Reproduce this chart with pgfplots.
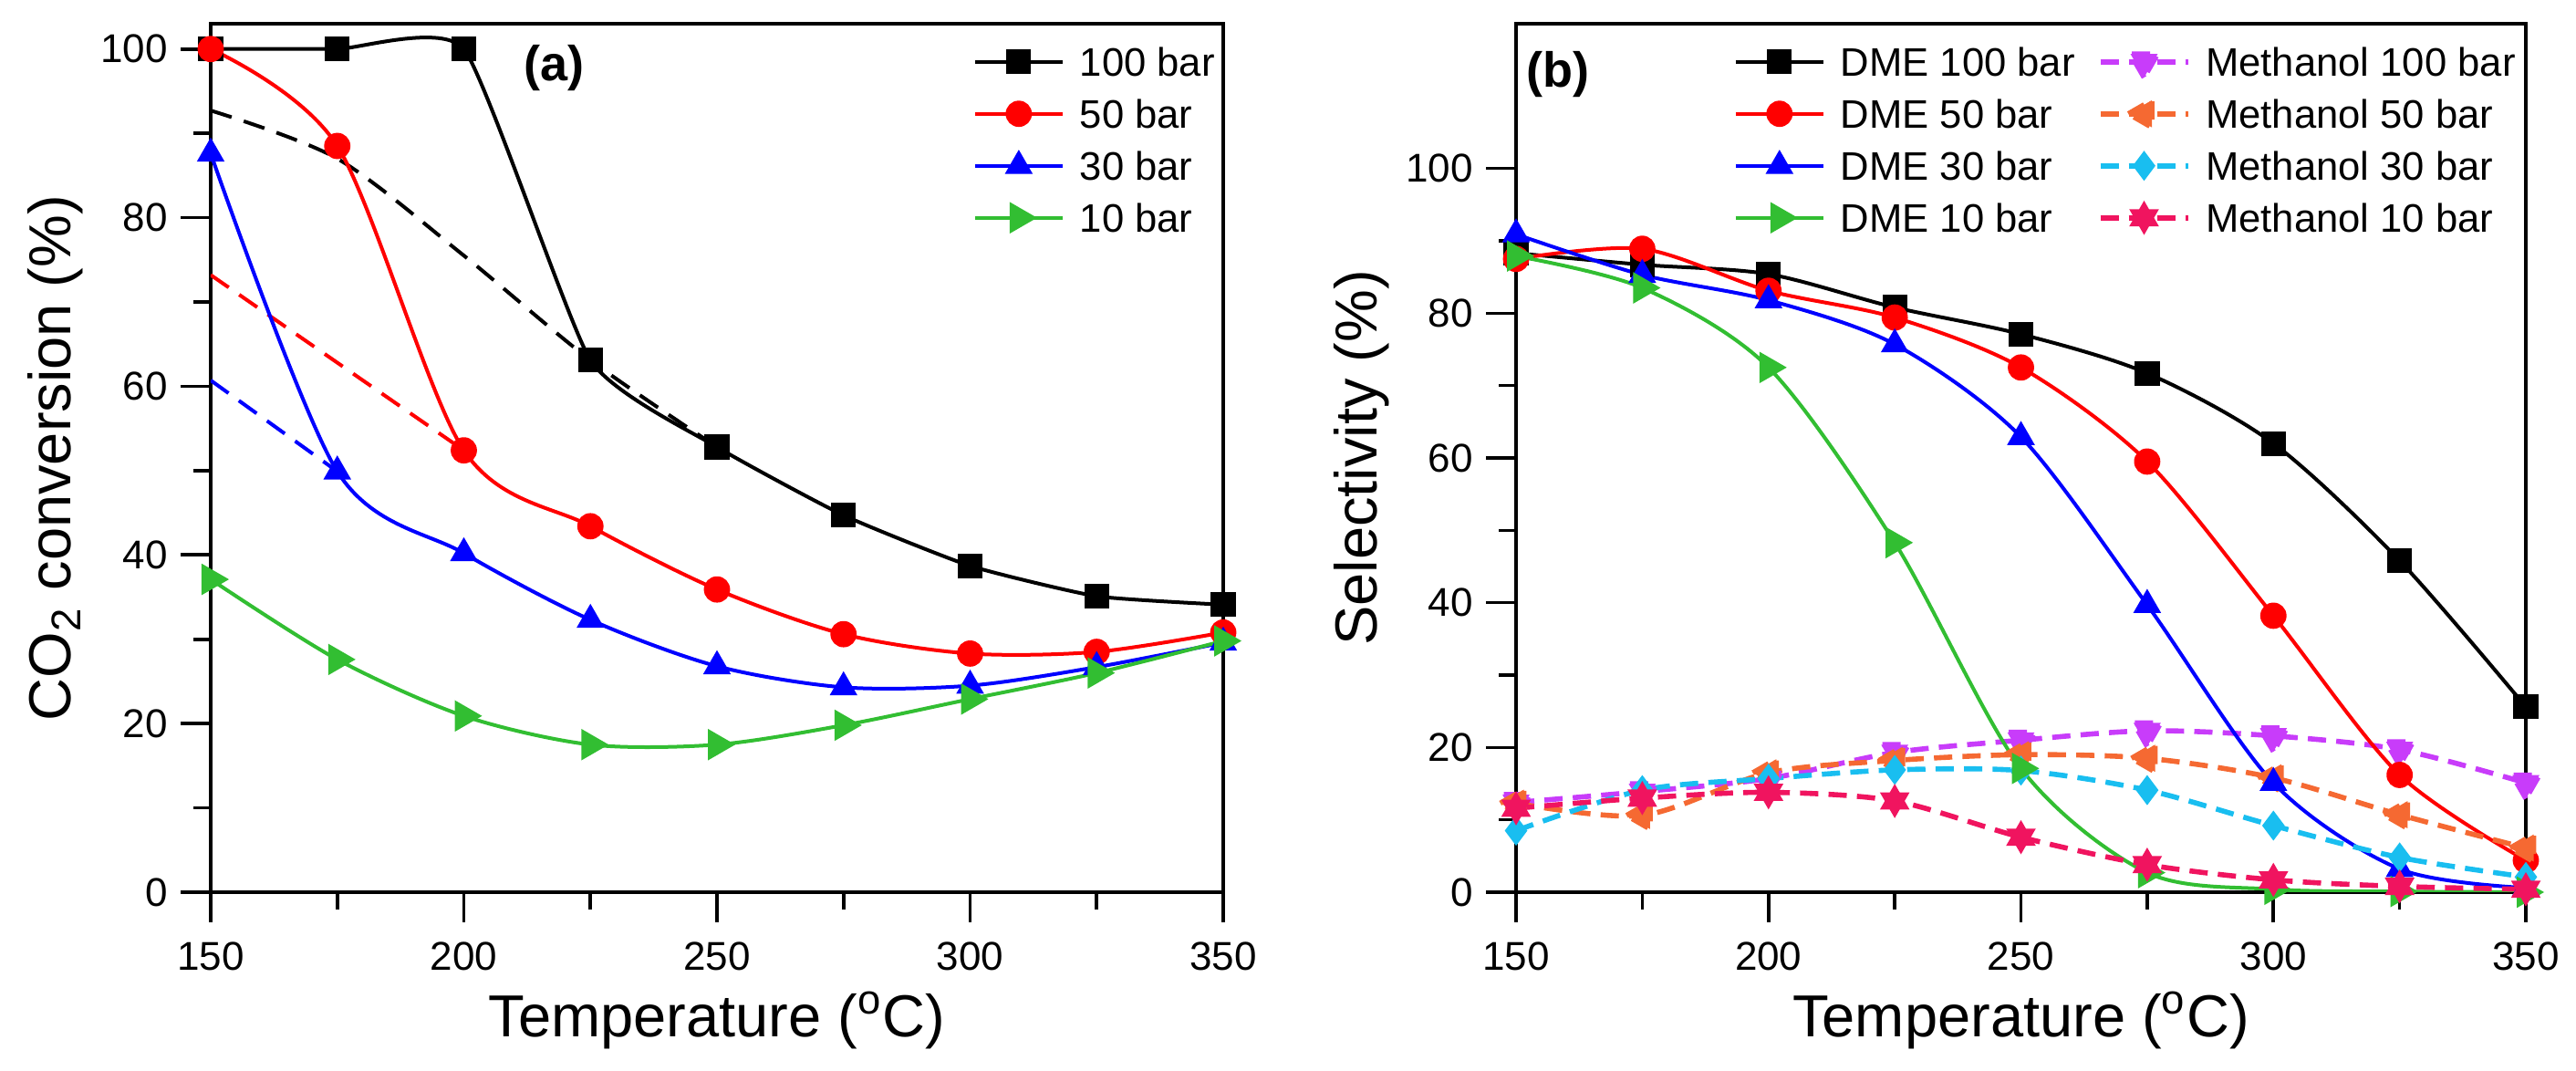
\documentclass[border=0pt]{standalone}
\usepackage{fontspec}
\setmainfont{Liberation Sans}
\usepackage{pgfplots}
\usepackage{pgfplotstable}
\pgfplotsset{compat=1.18}

\definecolor{cred}{RGB}{255,0,0}
\definecolor{cblue}{RGB}{0,0,255}
\definecolor{cgreen}{RGB}{50,190,50}
\definecolor{cviolet}{RGB}{200,60,250}
\definecolor{corange}{RGB}{245,105,50}
\definecolor{ccyan}{RGB}{25,190,240}
\definecolor{ccrimson}{RGB}{240,20,95}

% filled six-pointed star (two overlapping triangles)
\pgfdeclareplotmark{hexstar}{%
  \pgfpathmoveto{\pgfpointpolar{90}{\pgfplotmarksize}}%
  \pgfpathlineto{\pgfpointpolar{210}{\pgfplotmarksize}}%
  \pgfpathlineto{\pgfpointpolar{330}{\pgfplotmarksize}}%
  \pgfpathclose
  \pgfpathmoveto{\pgfpointpolar{270}{\pgfplotmarksize}}%
  \pgfpathlineto{\pgfpointpolar{30}{\pgfplotmarksize}}%
  \pgfpathlineto{\pgfpointpolar{150}{\pgfplotmarksize}}%
  \pgfpathclose
  \pgfusepathqfillstroke}

% ---------- (a) CO2 conversion ----------
\pgfplotstableread{
T    c100  c50   c30   c10
150  100   100   87.6  37.1
175  100   88.5  49.9  27.6
200  100   52.4  40.2  20.9
225  63.1  43.4  32.3  17.5
250  52.8  35.9  26.8  17.5
275  44.7  30.6  24.3  19.8
300  38.7  28.3  24.5  22.9
325  35.1  28.5  26.7  26.0
350  34.1  30.8  29.6  29.8
}\conversion

% ---------- (b) selectivity ----------
\pgfplotstableread{
T    d100  d50   d30   d10   m100  m50   m30   m10
150  88.3  87.5  90.9  87.9  12.4  12.3  8.5   11.6
175  86.7  88.9  85.3  83.5  13.9  10.6  14.1  13.0
200  85.4  83.1  81.8  72.5  15.7  16.5  15.7  13.8
225  80.8  79.4  75.7  48.3  19.3  18.2  16.9  12.6
250  77.1  72.5  62.9  17.1  21.0  19.0  16.8  7.6
275  71.7  59.5  39.7  2.7   22.3  18.5  14.1  3.8
300  62.0  38.2  15.1  0.4   21.6  15.8  9.2   1.7
325  45.8  16.2  3.2   0.1   19.7  10.7  4.8   0.8
350  25.6  4.4   0.6   0.0   15.1  6.1   2.1   0.4
}\selectivity

\pgfplotsset{
  panel/.style={
    scale only axis, height=238pt,
    xmin=150, xmax=350, ymin=0,
    xtick={150,200,...,350}, minor xtick={175,225,275,325},
    ytick={0,20,...,100}, minor ytick={10,30,50,70,90},
    tick align=outside, xtick pos=bottom, ytick pos=left,
    major tick length=8.25pt, minor tick length=4.75pt,
    axis line style={line width=1pt},
    every tick/.style={line width=0.9pt, black},
    tick label style={font=\fontsize{11}{13}\selectfont,
      /pgf/number format/assume math mode=true},
    xticklabel style={yshift=-1.8pt},
    label style={font=\fontsize{16.25}{19}\selectfont},
    xlabel={Temperature (\textsuperscript{o}C)},
    x label style={at={(axis description cs:0.5,-0.167)}, anchor=base},
    y label style={at={(axis description cs:-0.138,0.5)}, anchor=base},
    legend cell align=left,
    legend style={draw=none, fill=none, inner sep=0pt, anchor=north west,
      font=\fontsize{10.9}{12}\selectfont, row sep=4.25pt, column sep=3.25pt,
      nodes={inner sep=1pt, text height=8pt, text depth=0pt}},
    legend image code/.code={%
      \draw[mark repeat=2,mark phase=2,##1] plot coordinates {(0pt,0pt) (12pt,0pt) (24pt,0pt)};},
  },
  sol/.style={solid, line width=1pt, smooth, tension=0.5, color=#1,
    mark options={solid, fill=#1, draw=#1, line width=0.4pt}},
  dsh/.style={line width=1.4pt, smooth, tension=0.5, color=#1,
    dash pattern=on 5pt off 2.8pt,
    mark options={solid, fill=#1, draw=#1, line width=0.4pt}},
  guide/.style={line width=1pt, smooth, tension=0.5, color=#1,
    dash pattern=on 6pt off 3.5pt, forget plot},
}

\begin{document}
\begin{tikzpicture}
\path[use as bounding box] (0,0) rectangle (706pt,293.5pt);

\begin{axis}[panel, at={(57.75pt,49pt)}, anchor=south west, width=277.5pt,
  ymax=103, ylabel={CO\textsubscript{2} conversion (\%)},
  legend style={at={(axis description cs:0.7523,0.978)}}]
  % extrapolated trends
  \addplot[guide=black] coordinates {(150,92.7) (175,87.0) (200,75.5) (225,63.1) (250,52.8)};
  \addplot[guide=cred] coordinates {(150,73.2) (200,52.4)};
  \addplot[guide=cblue] coordinates {(150,60.7) (175,49.9)};
  % measured conversion
  \addplot[sol=black, tension=0.3, mark=square*, mark size=3.2pt] table[x=T, y=c100] {\conversion};
  \addlegendentry{100 bar}
  \addplot[sol=cred, mark=*, mark size=3.4pt] table[x=T, y=c50] {\conversion};
  \addlegendentry{50 bar}
  \addplot[sol=cblue, mark=triangle*, mark size=4pt] table[x=T, y=c30] {\conversion};
  \addlegendentry{30 bar}
  \addplot[sol=cgreen, mark=triangle*, mark size=4pt, mark options={rotate=-90}] table[x=T, y=c10] {\conversion};
  \addlegendentry{10 bar}
  \node[font=\bfseries\fontsize{13.5}{15}\selectfont] at (axis description cs:0.3396,0.9485) {(a)};
\end{axis}

\begin{axis}[panel, at={(415.5pt,49pt)}, anchor=south west, width=276.75pt,
  ymax=120, ylabel={Selectivity (\%)}, legend columns=2,
  legend style={at={(axis description cs:0.215,0.978)}}]
  \addplot[sol=black, mark=square*, mark size=3.2pt] table[x=T, y=d100] {\selectivity};
  \addlegendentry{DME 100 bar\hspace*{2pt}}
  \addplot[dsh=cviolet, mark=triangle*, mark size=4.3pt, mark options={rotate=180}] table[x=T, y=m100] {\selectivity};
  \addlegendentry{Methanol 100 bar}
  \addplot[sol=cred, mark=*, mark size=3.4pt] table[x=T, y=d50] {\selectivity};
  \addlegendentry{DME 50 bar}
  \addplot[dsh=corange, mark=triangle*, mark size=4.3pt, mark options={rotate=90}] table[x=T, y=m50] {\selectivity};
  \addlegendentry{Methanol 50 bar}
  \addplot[sol=cblue, mark=triangle*, mark size=4pt] table[x=T, y=d30] {\selectivity};
  \addlegendentry{DME 30 bar}
  \addplot[dsh=ccyan, mark=diamond*, mark size=3.8pt] table[x=T, y=m30] {\selectivity};
  \addlegendentry{Methanol 30 bar}
  \addplot[sol=cgreen, mark=triangle*, mark size=4pt, mark options={rotate=-90}] table[x=T, y=d10] {\selectivity};
  \addlegendentry{DME 10 bar}
  \addplot[dsh=ccrimson, mark=hexstar, mark size=4.3pt] table[x=T, y=m10] {\selectivity};
  \addlegendentry{Methanol 10 bar}
  \node[font=\bfseries\fontsize{13.5}{15}\selectfont] at (axis description cs:0.0416,0.942) {(b)};
\end{axis}
\end{tikzpicture}
\end{document}
